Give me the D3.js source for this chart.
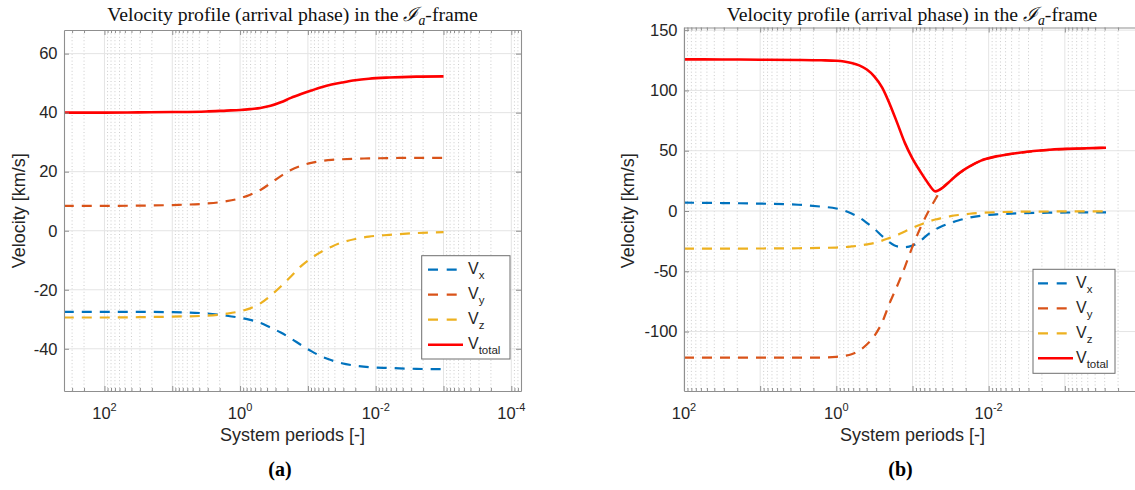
<!DOCTYPE html>
<html>
<head>
<meta charset="utf-8">
<script src="https://cdn.jsdelivr.net/npm/d3@7"></script>
<style>
  body { margin: 0; background: #fff; }
  svg { display: block; }
</style>
</head>
<body>
<svg id="fig" width="1135" height="490"></svg>
<script>
// ---------- Case (a): arrival-phase velocity components [km/s] vs system periods ----------
const periodsA = [398, 100, 31.6, 10, 3.16, 1.58, 1.0, 0.708, 0.501, 0.355, 0.251, 0.178, 0.126, 0.0891, 0.0631, 0.0447, 0.0316, 0.02, 0.0126, 0.00631, 0.00251, 0.001];
const vxA = [-27.5, -27.5, -27.5, -27.6, -28.0, -28.8, -29.5, -30.2, -31.2, -32.8, -34.5, -36.5, -38.7, -40.8, -42.6, -43.9, -44.9, -45.7, -46.2, -46.5, -46.8, -46.9];
const vyA = [8.4, 8.4, 8.5, 8.7, 9.2, 10.0, 11.0, 12.2, 13.8, 16.1, 18.5, 20.6, 22.0, 23.0, 23.6, 24.0, 24.2, 24.4, 24.5, 24.6, 24.7, 24.7];
const vzA = [-29.4, -29.4, -29.3, -29.1, -28.8, -28.1, -27.3, -26.3, -24.6, -22.0, -18.9, -15.5, -12.0, -9.3, -7.1, -5.4, -4.0, -2.8, -2.0, -1.4, -0.8, -0.5];
const vtA = [40.0, 40.0, 40.1, 40.2, 40.4, 40.7, 40.9, 41.2, 41.6, 42.3, 43.5, 45.0, 46.3, 47.5, 48.6, 49.5, 50.2, 51.0, 51.5, 51.9, 52.2, 52.3];

// ---------- Case (b) ----------
const periodsB = [100, 31.6, 10, 3.16, 1.58, 1.0, 0.794, 0.631, 0.501, 0.398, 0.316, 0.251, 0.2, 0.158, 0.126, 0.1, 0.0794, 0.0631, 0.0501, 0.0398, 0.0316, 0.0251, 0.0178, 0.0126, 0.00794, 0.00398, 0.00158, 0.000631, 0.000288];
const vxB = [6.9, 6.6, 6.1, 5.2, 3.6, 2.1, 0.5, -2.1, -5.3, -9.8, -14.8, -20.7, -26.0, -29.4, -30.0, -28.6, -25.0, -19.5, -15.3, -12.3, -9.9, -7.9, -5.5, -3.9, -2.8, -1.9, -1.4, -1.2, -1.1];
const vyB = [-121.6, -121.6, -121.6, -121.6, -121.6, -121.0, -120.2, -118.8, -115.8, -110.8, -103.5, -92.5, -76.5, -61.8, -46.5, -29.5, -14.5, -1.5, 9.7, 19.8, 25.0, 30.6, 36.8, 41.7, 45.2, 48.2, 50.7, 51.8, 52.4];
const vzB = [-31.2, -31.2, -31.1, -30.9, -30.6, -30.3, -30.0, -29.4, -28.7, -27.7, -26.5, -24.6, -22.3, -19.9, -17.0, -14.1, -11.4, -9.0, -7.1, -5.7, -4.3, -3.3, -2.3, -1.6, -1.0, -0.6, -0.4, -0.3, -0.3];
const vtB = [125.8, 125.7, 125.5, 125.3, 125.0, 124.6, 124.0, 122.8, 120.8, 117.3, 111.5, 102.5, 89.0, 72.7, 56.5, 43.5, 33.0, 23.5, 16.3, 19.5, 25.2, 30.8, 37.0, 41.8, 45.3, 48.3, 50.8, 51.9, 52.5];

// ---------- Ticks and legend ----------
const yTicksA = [-40, -20, 0, 20, 40, 60];
const yTicksB = [-100, -50, 0, 50, 100, 150];
const xTicksA = [1e2, 1e0, 1e-2, 1e-4];
const xTicksB = [1e2, 1e0, 1e-2];
const seriesSubs = ["x", "y", "z", "total"];
const seriesColors = ["#0072BD", "#D95319", "#EDB120", "#FF0000"];
const seriesDashed = [true, true, true, false];

const SANS = "'Liberation Sans', Arial, Helvetica, sans-serif";
const SERIF = "'Liberation Serif', 'Times New Roman', 'DejaVu Serif', serif";
const svg = d3.select("#fig");

function drawPanel(cfg) {
  const g = svg.append("g");
  const x = d3.scaleLog().domain(cfg.xDomain).range([cfg.x0, cfg.x1]);
  const y = d3.scaleLinear().domain(cfg.yDomain).range([cfg.y1, cfg.y0]);

  const clipId = "clip-" + cfg.id;
  svg.append("clipPath").attr("id", clipId)
    .append("rect").attr("x", cfg.x0).attr("y", cfg.y0)
    .attr("width", cfg.x1 - cfg.x0).attr("height", cfg.y1 - cfg.y0);

  // log-axis grid positions
  const lo = Math.min(...cfg.xDomain), hi = Math.max(...cfg.xDomain);
  const majors = [], minors = [];
  for (let k = Math.floor(Math.log10(lo)); k <= Math.ceil(Math.log10(hi)); k++) {
    for (let m = 1; m <= 9; m++) {
      const v = m * Math.pow(10, k);
      if (v < lo * 0.999 || v > hi * 1.001) continue;
      (m === 1 ? majors : minors).push(v);
    }
  }

  const grid = g.append("g");
  grid.selectAll(".minor").data(minors).join("line")
    .attr("x1", d => x(d)).attr("x2", d => x(d))
    .attr("y1", cfg.y0).attr("y2", cfg.y1)
    .attr("stroke", "#c6c6c6").attr("stroke-width", 0.9)
    .attr("stroke-dasharray", "1,2.4");
  grid.selectAll(".majx").data(majors).join("line")
    .attr("x1", d => x(d)).attr("x2", d => x(d))
    .attr("y1", cfg.y0).attr("y2", cfg.y1)
    .attr("stroke", "#e4e4e4").attr("stroke-width", 1);
  grid.selectAll(".majy").data(cfg.yTicks).join("line")
    .attr("x1", cfg.x0).attr("x2", cfg.x1)
    .attr("y1", d => y(d)).attr("y2", d => y(d))
    .attr("stroke", "#e4e4e4").attr("stroke-width", 1);

  // series
  const line = d3.line()
    .x(d => x(d[0])).y(d => y(d[1]))
    .curve(d3.curveMonotoneX);
  const plot = g.append("g").attr("clip-path", `url(#${clipId})`);
  cfg.series.forEach((vals, i) => {
    const pts = cfg.periods.map((p, j) => [p, vals[j]]);
    plot.append("path").datum(pts)
      .attr("d", line)
      .attr("fill", "none")
      .attr("stroke", seriesColors[i])
      .attr("stroke-width", seriesDashed[i] ? 2.2 : 2.6)
      .attr("stroke-dasharray", seriesDashed[i] ? "10,8" : null)
      .attr("stroke-linejoin", "round");
  });

  // axes (box with inward ticks)
  const axColor = "#8f8f8f";
  const styleAxis = sel => {
    sel.attr("font-family", SANS).attr("font-size", 16.5);
    sel.select(".domain").attr("stroke", axColor).attr("stroke-width", 1.1);
    sel.selectAll(".tick line").attr("stroke", axColor);
    sel.selectAll(".tick text").attr("fill", "#262626");
  };
  const fmt = d => String(d);

  g.append("g").attr("transform", `translate(${cfg.x0},0)`)
    .call(d3.axisLeft(y).tickValues(cfg.yTicks).tickSize(-5).tickSizeOuter(0).tickPadding(6.5).tickFormat(fmt))
    .call(styleAxis);
  g.append("g").attr("transform", `translate(${cfg.x1},0)`)
    .call(d3.axisRight(y).tickValues(cfg.yTicks).tickSize(-5).tickSizeOuter(0).tickFormat(""))
    .call(styleAxis);

  g.append("g").attr("transform", `translate(0,${cfg.y1})`)
    .call(d3.axisBottom(x).tickValues(majors).tickSize(-5).tickSizeOuter(0).tickFormat(""))
    .call(styleAxis);
  g.append("g").attr("transform", `translate(0,${cfg.y0})`)
    .call(d3.axisTop(x).tickValues(majors).tickSize(-5).tickSizeOuter(0).tickFormat(""))
    .call(styleAxis);
  // minor ticks on log axis
  g.append("g").attr("transform", `translate(0,${cfg.y1})`)
    .call(d3.axisBottom(x).tickValues(minors).tickSize(-3).tickSizeOuter(0).tickFormat(""))
    .call(s => { s.select(".domain").remove(); s.selectAll(".tick line").attr("stroke", axColor); });
  g.append("g").attr("transform", `translate(0,${cfg.y0})`)
    .call(d3.axisTop(x).tickValues(minors).tickSize(-3).tickSizeOuter(0).tickFormat(""))
    .call(s => { s.select(".domain").remove(); s.selectAll(".tick line").attr("stroke", axColor); });

  // power-of-ten tick labels
  const xl = g.append("g").attr("font-family", SANS).attr("fill", "#262626");
  cfg.xTicks.forEach(v => {
    const t = xl.append("text")
      .attr("x", x(v)).attr("y", cfg.y1 + 28)
      .attr("text-anchor", "middle").attr("font-size", 16.5);
    t.append("tspan").text("10");
    t.append("tspan").attr("dy", -8.3).attr("font-size", 11).text(String(Math.round(Math.log10(v))));
  });

  // axis labels
  g.append("text")
    .attr("x", (cfg.x0 + Math.min(cfg.x1, 1141)) / 2).attr("y", 441)
    .attr("text-anchor", "middle").attr("font-family", SANS).attr("font-size", 18)
    .attr("fill", "#262626").text("System periods [-]");
  g.append("text")
    .attr("transform", `translate(${cfg.ylabX},210.8) rotate(-90)`)
    .attr("text-anchor", "middle").attr("font-family", SANS).attr("font-size", 18)
    .attr("fill", "#262626").text("Velocity [km/s]");

  // title
  const title = g.append("text")
    .attr("x", cfg.titleX).attr("y", 21)
    .attr("text-anchor", "middle").attr("font-family", SERIF).attr("font-size", 17)
    .attr("fill", "#111");
  title.append("tspan").text("Velocity profile (arrival phase) in the ");
  title.append("tspan").attr("font-family", "'DejaVu Serif', serif").attr("font-style", "italic").text("ℐ");
  title.append("tspan").attr("font-style", "italic").attr("font-size", 12).attr("dy", 4).text("a");
  title.append("tspan").attr("dy", -4).text("-frame");
  const w = title.node().getComputedTextLength();
  const fs = 17 * cfg.titleW / w;
  title.attr("font-size", fs);
  title.selectAll("tspan").filter((d, i) => i === 2).attr("font-size", fs * 0.7);

  // legend
  const L = cfg.legend;
  const lg = g.append("g");
  lg.append("rect").attr("x", L.x).attr("y", L.y).attr("width", L.w).attr("height", L.h)
    .attr("fill", "#fff").attr("stroke", "#6e6e6e").attr("stroke-width", 1);
  seriesSubs.forEach((sub, i) => {
    const ry = L.y + 14 + i * 25;
    lg.append("line")
      .attr("x1", L.x + L.s0).attr("x2", L.x + (seriesDashed[i] ? L.s1 : L.s2))
      .attr("y1", ry).attr("y2", ry)
      .attr("stroke", seriesColors[i])
      .attr("stroke-width", seriesDashed[i] ? 2.2 : 2.6)
      .attr("stroke-dasharray", seriesDashed[i] ? "10,8.7" : null);
    const t = lg.append("text").attr("x", L.x + L.tx).attr("y", ry + 4.5)
      .attr("font-family", SANS).attr("font-size", 16).attr("fill", "#262626");
    t.append("tspan").text("V");
    t.append("tspan").attr("dy", 5).attr("font-size", 11.5).text(sub);
  });

  // sub-caption
  svg.append("text").attr("x", cfg.capX).attr("y", 476)
    .attr("text-anchor", "middle").attr("font-family", SERIF)
    .attr("font-weight", "bold").attr("font-size", 20).attr("fill", "#000")
    .text(cfg.caption);
}

drawPanel({
  id: "a", x0: 64, x1: 521, y0: 30, y1: 391,
  xDomain: [395, 7.2e-5], yDomain: [-54.3, 68],
  yTicks: yTicksA, xTicks: xTicksA,
  periods: periodsA, series: [vxA, vyA, vzA, vtA],
  ylabX: 24.5, titleX: 292.5, titleW: 371,
  legend: { x: 421.7, y: 255.7, w: 88.3, h: 103.3, s0: 6.3, s1: 35, s2: 41.3, tx: 46.3 },
  capX: 280, caption: "(a)"
});

drawPanel({
  id: "b", x0: 684, x1: 1141, y0: 27.5, y1: 391,
  xDomain: [100, 1e-4], yDomain: [-149.3, 152.2],
  yTicks: yTicksB, xTicks: xTicksB,
  periods: periodsB, series: [vxB, vyB, vzB, vtB],
  ylabX: 634, titleX: 912, titleW: 371,
  legend: { x: 1033, y: 269.3, w: 82, h: 104, s0: 5, s1: 33.7, s2: 40, tx: 43 },
  capX: 900.5, caption: "(b)"
});
</script>
</body>
</html>
